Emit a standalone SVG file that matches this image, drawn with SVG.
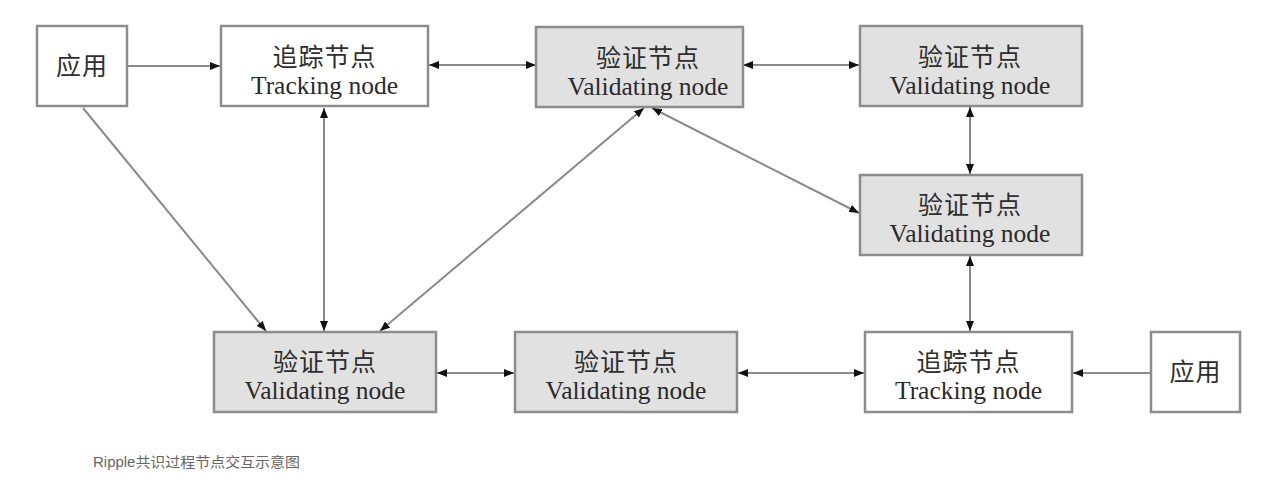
<svg xmlns="http://www.w3.org/2000/svg" width="1275" height="488" viewBox="0 0 1275 488">
<style>
.box{stroke:#8c8c8c;stroke-width:2.5}
.w{fill:#ffffff}
.g{fill:#e1e1e1}
.cn{font-family:"Liberation Serif","Noto Sans CJK SC",serif;font-size:25px;fill:#2e2e2e;text-anchor:middle;letter-spacing:1px}
.en{font-family:"Liberation Serif",serif;font-size:25.5px;fill:#2a2a2a;text-anchor:middle}
.ln{stroke:#8a8a8a;stroke-width:2;fill:none}
.cap{font-family:"Liberation Sans","Noto Sans CJK SC",sans-serif;font-size:14px;fill:#666}
</style>
<defs>
<marker id="ah" viewBox="0 0 10 8" refX="10" refY="4" markerWidth="10" markerHeight="8" markerUnits="userSpaceOnUse" orient="auto-start-reverse">
<path d="M0,0 L10,4 L0,8 Z" fill="#111"/>
</marker>
</defs>
<rect width="1275" height="488" fill="#ffffff"/>
<g id="connectors">
<line class="ln" x1="127" y1="66" x2="220" y2="66" marker-end="url(#ah)"/>
<line class="ln" x1="429" y1="65" x2="536" y2="65" marker-start="url(#ah)" marker-end="url(#ah)"/>
<line class="ln" x1="743" y1="65" x2="859" y2="65" marker-start="url(#ah)" marker-end="url(#ah)"/>
<line class="ln" x1="970" y1="107" x2="970" y2="174" marker-start="url(#ah)" marker-end="url(#ah)"/>
<line class="ln" x1="652" y1="108" x2="859" y2="213" marker-start="url(#ah)" marker-end="url(#ah)"/>
<line class="ln" x1="970" y1="256" x2="970" y2="331" marker-start="url(#ah)" marker-end="url(#ah)"/>
<line class="ln" x1="1151" y1="373" x2="1073" y2="373" marker-end="url(#ah)"/>
<line class="ln" x1="738" y1="373" x2="864" y2="373" marker-start="url(#ah)" marker-end="url(#ah)"/>
<line class="ln" x1="437" y1="373" x2="514" y2="373" marker-start="url(#ah)" marker-end="url(#ah)"/>
<line class="ln" x1="83" y1="108" x2="266" y2="331" marker-end="url(#ah)"/>
<line class="ln" x1="324" y1="108" x2="324" y2="331" marker-start="url(#ah)" marker-end="url(#ah)"/>
<line class="ln" x1="644" y1="108" x2="380" y2="331" marker-start="url(#ah)" marker-end="url(#ah)"/>
</g>
<g id="app1">
<rect class="box w" x="37" y="26" width="90" height="80"/>
<text class="cn" x="82" y="75">应用</text>
</g>
<g id="tracking1">
<rect class="box w" x="221" y="26" width="207" height="80"/>
<text class="cn" x="324.5" y="66">追踪节点</text>
<text class="en" x="324.5" y="94">Tracking node</text>
</g>
<g id="validating1">
<rect class="box g" x="536" y="27" width="207" height="80"/>
<text class="cn" x="648" y="67">验证节点</text>
<text class="en" x="648" y="95">Validating node</text>
</g>
<g id="validating2">
<rect class="box g" x="860" y="26" width="222" height="80"/>
<text class="cn" x="970" y="66">验证节点</text>
<text class="en" x="970" y="94">Validating node</text>
</g>
<g id="validating3">
<rect class="box g" x="860" y="175" width="222" height="80"/>
<text class="cn" x="970" y="214">验证节点</text>
<text class="en" x="970" y="242">Validating node</text>
</g>
<g id="validating4">
<rect class="box g" x="214" y="332" width="222" height="80"/>
<text class="cn" x="325" y="371">验证节点</text>
<text class="en" x="325" y="399">Validating node</text>
</g>
<g id="validating5">
<rect class="box g" x="515" y="332" width="222" height="80"/>
<text class="cn" x="626" y="371">验证节点</text>
<text class="en" x="626" y="399">Validating node</text>
</g>
<g id="tracking2">
<rect class="box w" x="865" y="332" width="207" height="80"/>
<text class="cn" x="968.5" y="371">追踪节点</text>
<text class="en" x="968.5" y="399">Tracking node</text>
</g>
<g id="app2">
<rect class="box w" x="1151" y="332" width="89" height="80"/>
<text class="cn" x="1195.5" y="381">应用</text>
</g>
<text class="cap" x="93" y="467" textLength="207" lengthAdjust="spacingAndGlyphs">Ripple共识过程节点交互示意图</text>
</svg>
